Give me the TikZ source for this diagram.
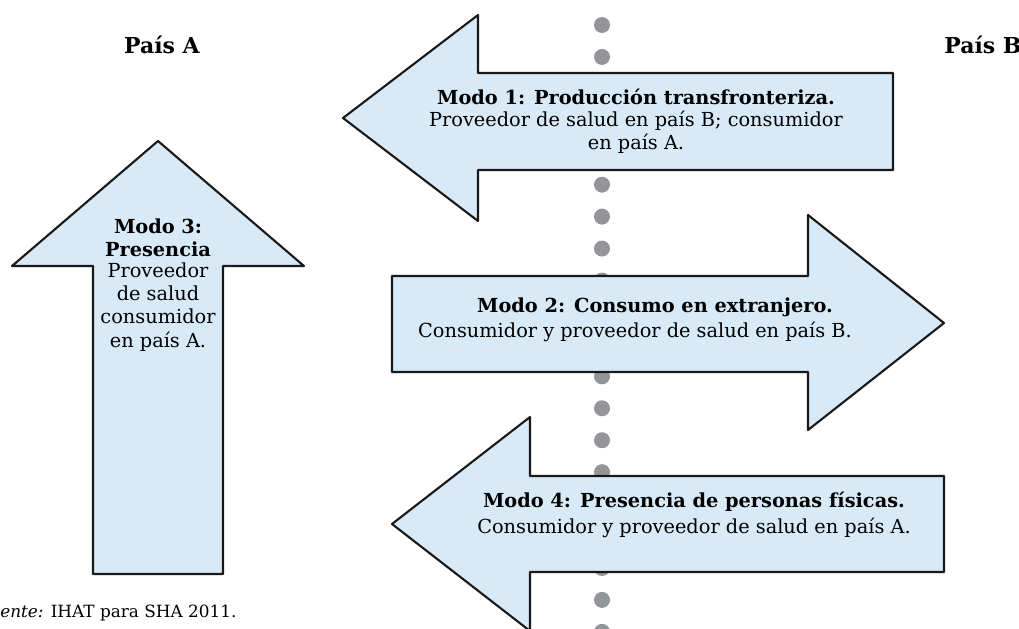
\documentclass[tikz,border=0pt]{standalone}
\usepackage{fontspec}
\setmainfont{DejaVu Serif}
\usepackage{xcolor}
\usetikzlibrary{positioning}
\definecolor{ArrowBlue}{RGB}{216,234,247}
\definecolor{DotGrey}{RGB}{147,149,152}
\tikzset{
  mode/.style={draw=black!90, fill=ArrowBlue, line width=1.2pt, line join=round},
  dot/.style={circle, fill=DotGrey, inner sep=0pt, minimum size=0.32cm},
  modetitle/.style={font=\fontsize{11}{13}\selectfont\bfseries, align=center, inner sep=0pt},
  modetext/.style={font=\fontsize{11}{13.2}\selectfont, align=center, inner sep=0pt},
  country/.style={font=\fontsize{12.5}{15}\selectfont\bfseries, inner sep=0pt}
}
\begin{document}
\begin{tikzpicture}[x=0.02cm, y=-0.02cm]
    \useasboundingbox (0,0) rectangle (1019,629);

    % the border between the two countries
    \foreach \k in {0,...,19}{
        \node[dot] (border\k) at (602, {25+31.94*\k}) {};
    }

    % country labels
    \node[country] (paisA) at (162,45) {País A};
    \node[country] (paisB) at (983,45) {País B};

    % Modo 1 (points to country A)
    \draw[mode] (343,118) -- (478,15) -- (478,73) -- (893,73) -- (893,170)
        -- (478,170) -- (478,221) -- cycle;
    \node[modetitle] (m1) at (636,97) {Modo 1: Producción transfronteriza.};
    \node[modetext, below=3pt of m1] (m1text) {Proveedor de salud en país B; consumidor\\en país A.};

    % Modo 2 (points to country B)
    \draw[mode] (392,276) -- (808,276) -- (808,215) -- (944,323) -- (808,430)
        -- (808,372) -- (392,372) -- cycle;
    \node[modetitle] (m2) at (655,307) {Modo 2: Consumo en extranjero.};
    \node[modetext, below=3pt of m2, xshift=-0.4cm] (m2text) {Consumidor y proveedor de salud en país B.};

    % Modo 3 (stays in country A)
    \draw[mode] (158,141) -- (304,266) -- (223,266) -- (223,574) -- (93,574)
        -- (93,266) -- (12,266) -- cycle;
    \node[modetitle] (m3) at (158,238) {Modo 3:\\Presencia};
    \node[modetext, below=3pt of m3] (m3text) {Proveedor\\de salud\\consumidor\\en país A.};

    % Modo 4 (points to country A)
    \draw[mode] (392,524) -- (530,417) -- (530,476) -- (944,476) -- (944,572)
        -- (530,572) -- (530,631) -- cycle;
    \node[modetitle] (m4) at (694,502) {Modo 4: Presencia de personas físicas.};
    \node[modetext, below=3pt of m4] (m4text) {Consumidor y proveedor de salud en país A.};

    % source
    \node[anchor=west, inner sep=0pt, font=\fontsize{9.6}{11}\selectfont] (fuente) at (0,613) {\textit{ente:} IHAT para SHA 2011.};
\end{tikzpicture}
\end{document}
